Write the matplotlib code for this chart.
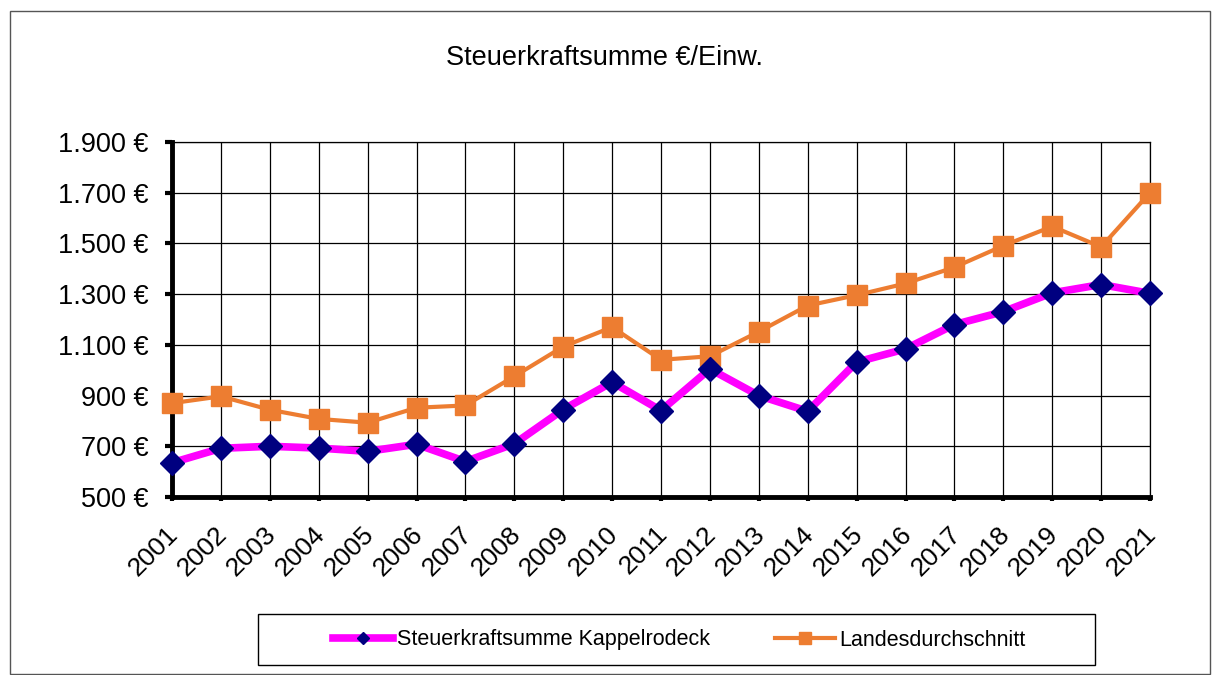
import matplotlib.pyplot as plt
from matplotlib.patches import Rectangle
from matplotlib.ticker import FuncFormatter
from matplotlib.transforms import ScaledTranslation

plt.rcParams['font.family'] = ['Liberation Sans', 'DejaVu Sans']

years = [str(y) for y in range(2001, 2022)]
kappelrodeck = [635, 692, 700, 693, 680, 708, 640, 710, 845, 953, 841, 1005, 900, 838,
                1032, 1084, 1180, 1231, 1305, 1338, 1303]
landesschnitt = [870, 897, 844, 808, 793, 852, 861, 976, 1093, 1170, 1041, 1055, 1152, 1255,
                 1296, 1342, 1406, 1491, 1567, 1486, 1700]
yticks = [500, 700, 900, 1100, 1300, 1500, 1700, 1900]

W, H = 1213, 675
fig = plt.figure(figsize=(W / 100, H / 100), dpi=100)
ax = fig.add_axes([172 / W, 1 - 497 / H, (1150 - 172) / W, (497 - 142) / H])

# aeusserer Rahmen
fig.patches.append(Rectangle((10 / W, 0.002), 1200 / W, 1 - 11 / H - 0.002,
                             transform=fig.transFigure, fill=False,
                             edgecolor='#555555', linewidth=1))

x = list(range(len(years)))
ax.plot(x, kappelrodeck, color='#FF00FF', linewidth=5.5, marker='D', markersize=12,
        markerfacecolor='#000080', markeredgecolor='#000080',
        label='Steuerkraftsumme Kappelrodeck', zorder=4, clip_on=False)
ax.plot(x, landesschnitt, color='#ED7D31', linewidth=3, marker='s', markersize=15,
        markerfacecolor='#ED7D31', markeredgecolor='#ED7D31',
        label='Landesdurchschnitt', zorder=3, clip_on=False)

ax.set_xlim(0, len(years) - 1)
ax.set_ylim(500, 1900)
ax.set_yticks(yticks)
ax.yaxis.set_major_formatter(FuncFormatter(lambda v, p: f'{int(v):,} €'.replace(',', '.')))
ax.set_xticks(x)
ax.set_xticklabels(years, rotation=45, ha='right', rotation_mode='anchor')
ax.tick_params(axis='y', labelsize=19.5, length=5, width=3, direction='out', pad=12)
ax.tick_params(axis='x', labelsize=19, length=3, width=3, direction='out', pad=15)
shift = ScaledTranslation(-6 / 100, 0, fig.dpi_scale_trans)
for lbl in ax.get_xticklabels():
    lbl.set_transform(lbl.get_transform() + shift)

ax.grid(True, color='black', linewidth=0.9)
ax.set_axisbelow(True)
for s in ['top', 'right']:
    ax.spines[s].set_color('black')
    ax.spines[s].set_linewidth(0.9)
for s in ['left', 'bottom']:
    ax.spines[s].set_linewidth(3.5)
    ax.spines[s].set_color('black')

fig.text(605 / W, 1 - 58 / H, 'Steuerkraftsumme €/Einw.', ha='center', va='center', fontsize=19.5)

# Legende mit eigenem Rahmen
fig.patches.append(Rectangle((258 / W, 1 - 665 / H), (1095 - 258) / W, (665 - 614) / H,
                             transform=fig.transFigure, fill=False,
                             edgecolor='black', linewidth=1))
fig.legend(loc='center', bbox_to_anchor=(679 / W, 1 - 640 / H), ncol=2,
           fontsize=15.5, frameon=False, handlelength=2.8, handletextpad=0.2,
           columnspacing=3.0, markerscale=0.55)

fig.savefig('out.png', dpi=100)
